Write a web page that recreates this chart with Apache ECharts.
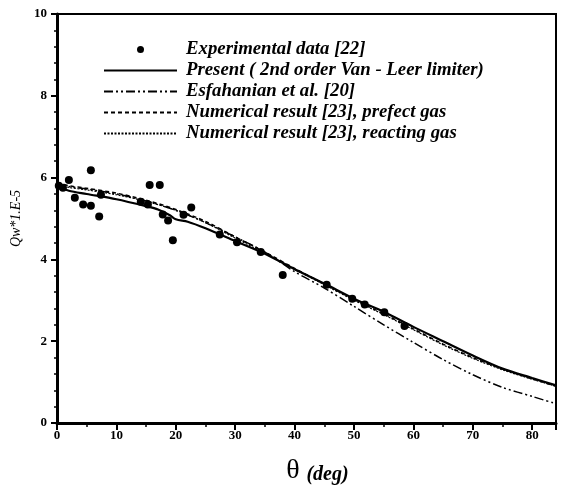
<!DOCTYPE html>
<html>
<head>
<meta charset="utf-8">
<script src="https://cdn.jsdelivr.net/npm/echarts@6/dist/echarts.min.js"></script>
<style>html,body{margin:0;padding:0;background:#fff}#c{width:567px;height:490px}</style>
</head>
<body>
<div id="c"></div>
<script>
// Data
var seriesNames = [
  'Experimental data [22]',
  'Present ( 2nd order Van - Leer limiter)',
  'Esfahanian et al. [20]',
  'Numerical result [23], prefect gas',
  'Numerical result [23], reacting gas'
];
var experimental = [
  [0.3,5.80],[1,5.75],[2,5.94],[3,5.51],[4.4,5.34],[5.7,6.18],[5.7,5.31],[7.1,5.05],[7.4,5.58],
  [14.1,5.41],[15.3,5.34],[15.6,5.82],[17.3,5.82],[17.8,5.10],[18.7,4.95],[19.5,4.47],[21.3,5.09],
  [22.6,5.27],[27.4,4.61],[30.3,4.42],[34.3,4.18],[38.0,3.62],[45.4,3.38],[49.7,3.04],[51.8,2.90],
  [55.1,2.71],[58.5,2.37]
];
var presentTheta = [0,2,5,10,15,17,19,20,22,25,30,35,40,45,50,55,60,65,70,75,80,84];
var presentQw    = [5.80,5.68,5.60,5.47,5.30,5.22,5.08,4.98,4.92,4.76,4.45,4.14,3.76,3.41,3.04,2.72,2.35,2.00,1.65,1.33,1.10,0.92];
var refTheta     = [0,2,5,10,15,20,25,30,35,40,45,50,55,60,65,70,75,80,84];
var esfahanianQw = [5.85,5.78,5.72,5.60,5.43,5.20,4.90,4.55,4.18,3.70,3.30,2.85,2.40,1.97,1.55,1.18,0.87,0.65,0.47];
var perfectQw    = [5.88,5.80,5.74,5.62,5.45,5.22,4.93,4.55,4.18,3.78,3.40,3.02,2.67,2.30,1.93,1.60,1.32,1.08,0.90];
var reactingQw   = [5.85,5.76,5.70,5.58,5.42,5.20,4.90,4.52,4.15,3.76,3.38,3.00,2.65,2.28,1.91,1.58,1.30,1.07,0.90];
var xTicks = [0,10,20,30,40,50,60,70,80];
var yTicks = [0,2,4,6,8,10];

function pairs(xs, ys){ return xs.map(function(x,i){ return [x, ys[i]]; }); }

var chart = echarts.init(document.getElementById('c'), null, {renderer:'canvas'});
var serif = 'Liberation Serif, Times New Roman, serif';
var hideSym = {opacity: 0, borderWidth: 0};
chart.setOption({
  animation: false,
  backgroundColor: '#fff',
  grid: {left: 57, right: 11, top: 14, bottom: 62, show: true, borderColor: '#000', borderWidth: 2, backgroundColor: 'transparent'},
  legend: {
    orient: 'vertical', left: 98, top: 34,
    itemWidth: 73, itemHeight: 7, itemGap: 0,
    textStyle: {fontFamily: serif, fontStyle: 'italic', fontWeight: 'bold', fontSize: 18.8, color: '#000', lineHeight: 21, padding: [0,0,0,4]},
    data: [
      {name: seriesNames[0], icon: 'circle', itemStyle: {opacity: 1}},
      {name: seriesNames[1], itemStyle: hideSym},
      {name: seriesNames[2], itemStyle: hideSym},
      {name: seriesNames[3], itemStyle: hideSym},
      {name: seriesNames[4], itemStyle: hideSym}
    ]
  },
  xAxis: {
    type: 'value', min: 0, max: 84, interval: 10,
    name: '{a|θ}  {b|(deg)}', nameLocation: 'middle', nameGap: 34,
    nameTextStyle: {padding: [0,0,0,22], rich: {
      a: {fontFamily: serif, fontSize: 28, color: '#000'},
      b: {fontFamily: serif, fontSize: 20, fontStyle: 'italic', fontWeight: 'bold', color: '#000', padding: [8,0,0,0]}
    }},
    axisLine: {onZero: false, lineStyle: {color: '#000', width: 3}},
    axisTick: {length: 7, lineStyle: {color: '#000', width: 2}},
    minorTick: {show: true, splitNumber: 2, length: 4, lineStyle: {color: '#000', width: 1.5}},
    splitLine: {show: false},
    axisLabel: {showMaxLabel: false, margin: 6, fontFamily: serif, fontWeight: 'bold', fontSize: 13, color: '#000',
      formatter: function(v){ return xTicks.indexOf(v) >= 0 ? String(v) : ''; }}
  },
  yAxis: {
    type: 'value', min: 0, max: 10, interval: 2,
    name: 'Qw*1.E-5', nameLocation: 'middle', nameGap: 24,
    nameTextStyle: {fontFamily: serif, fontStyle: 'italic', fontSize: 14, color: '#000'},
    axisLine: {onZero: false, lineStyle: {color: '#000', width: 3}},
    axisTick: {length: 6, lineStyle: {color: '#000', width: 2}},
    minorTick: {show: true, splitNumber: 5, length: 3, lineStyle: {color: '#000', width: 1.5}},
    splitLine: {show: false},
    axisLabel: {margin: 10, fontFamily: serif, fontWeight: 'bold', fontSize: 13, color: '#000',
      formatter: function(v){ return yTicks.indexOf(v) >= 0 ? String(v) : ''; }}
  },
  series: [
    {name: seriesNames[0], type: 'scatter', data: experimental, symbol: 'circle', symbolSize: 8, itemStyle: {color: '#000', opacity: 1}, z: 5},
    {name: seriesNames[1], type: 'line', data: pairs(presentTheta, presentQw), symbol: 'none', smooth: 0.3,
      lineStyle: {color: '#000', width: 2.2, type: 'solid'}, itemStyle: {color: '#000'}},
    {name: seriesNames[2], type: 'line', data: pairs(refTheta, esfahanianQw), symbol: 'none', smooth: 0.3,
      lineStyle: {color: '#000', width: 1.5, type: [9,3,2,3,2,3]}, itemStyle: {color: '#000'}},
    {name: seriesNames[3], type: 'line', data: pairs(refTheta, perfectQw), symbol: 'none', smooth: 0.3,
      lineStyle: {color: '#000', width: 1.5, type: [4,3]}, itemStyle: {color: '#000'}},
    {name: seriesNames[4], type: 'line', data: pairs(refTheta, reactingQw), symbol: 'none', smooth: 0.3,
      lineStyle: {color: '#000', width: 1.2, type: [2,1.5]}, itemStyle: {color: '#000'}}
  ]
});
</script>
</body>
</html>
